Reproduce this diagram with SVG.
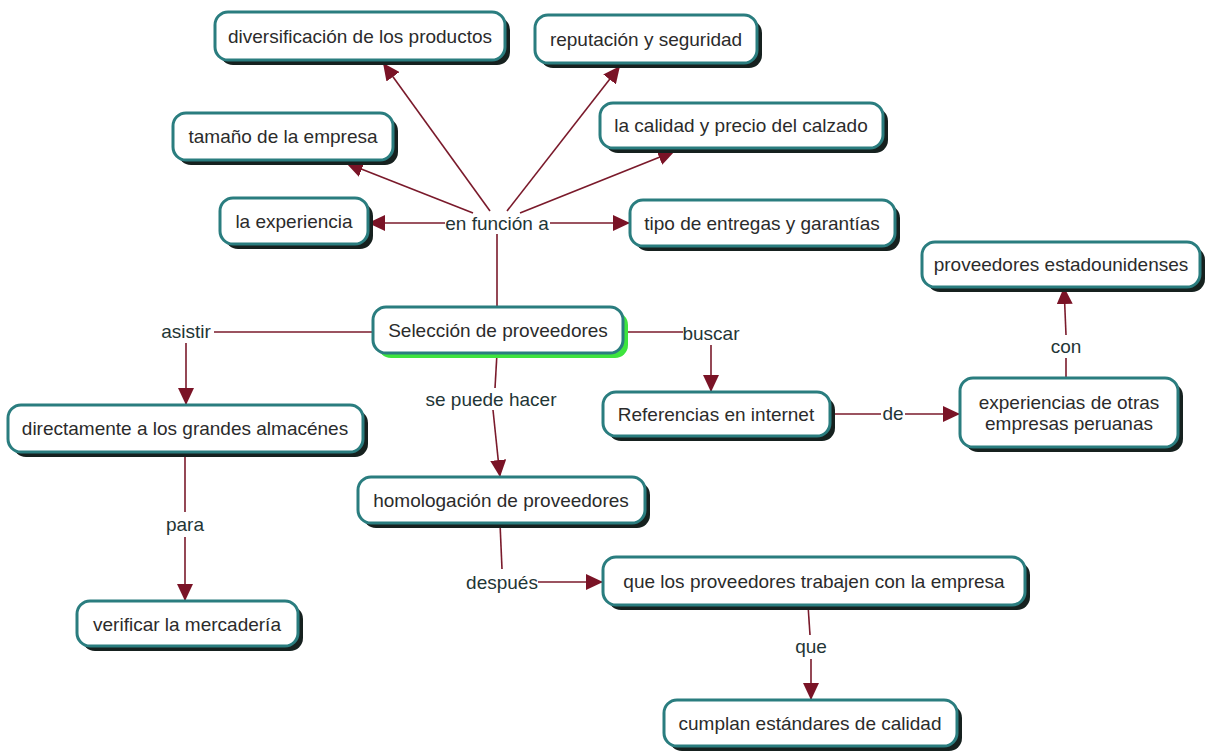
<svg xmlns="http://www.w3.org/2000/svg" width="1209" height="753" viewBox="0 0 1209 753">
  <defs>
    <style>
      .shadow { fill: #16211f; }
      .shadow-green { fill: #3ee43e; }
      .box { fill: #ffffff; stroke: #2a7d7f; stroke-width: 3; }
      .txt { font-family: "Liberation Sans", Arial, sans-serif; font-size: 19px; fill: #2b2b2b; text-anchor: middle; dominant-baseline: central; }
      .lbl { font-family: "Liberation Sans", Arial, sans-serif; font-size: 19px; fill: #1f3636; text-anchor: middle; dominant-baseline: central; }
      .link { fill: none; stroke: #7a1a2b; stroke-width: 1.6; }
      .arrow { fill: none; stroke: #7a1a2b; stroke-width: 1.6; marker-end: url(#head); }
    </style>
    <marker id="head" viewBox="0 0 17 16" refX="17" refY="8" markerWidth="17" markerHeight="16" markerUnits="userSpaceOnUse" orient="auto">
      <path d="M0,0 L17,8 L0,16 Z" fill="#7a1326"/>
    </marker>
  </defs>

  <rect x="0" y="0" width="1209" height="753" fill="#ffffff"/>

  <!-- connectors and their labels -->
  <g id="connectors">
    <!-- fan-out from "en función a" -->
    <path class="link" d="M497,307 L497,234"/>
    <path class="arrow" d="M445,223 L368,223"/>
    <path class="arrow" d="M550,223 L630,223"/>
    <path class="arrow" d="M473,213 L346,163"/>
    <path class="arrow" d="M490,211 L383,63"/>
    <path class="arrow" d="M507,211 L620,66"/>
    <path class="arrow" d="M520,213 L675,151"/>
    <text class="lbl" x="497" y="223">en función a</text>

    <!-- asistir -->
    <path class="link" d="M373,332 L214,332"/>
    <path class="arrow" d="M186,343 L186,405"/>
    <text class="lbl" x="186" y="331">asistir</text>

    <!-- buscar -->
    <path class="link" d="M623,332 L683,332"/>
    <path class="arrow" d="M711,345 L711,392"/>
    <text class="lbl" x="711" y="333">buscar</text>

    <!-- se puede hacer -->
    <path class="link" d="M497,353 L495,388"/>
    <path class="arrow" d="M493,410 L500,477"/>
    <text class="lbl" x="491" y="399">se puede hacer</text>

    <!-- de -->
    <path class="link" d="M830,414 L881,414"/>
    <path class="arrow" d="M905,414 L960,414"/>
    <text class="lbl" x="893" y="413">de</text>

    <!-- con -->
    <path class="link" d="M1066,378 L1066,358"/>
    <path class="arrow" d="M1066,335 L1064,287"/>
    <text class="lbl" x="1066" y="346">con</text>

    <!-- para -->
    <path class="link" d="M185,452 L185,512"/>
    <path class="arrow" d="M185,537 L185,601"/>
    <text class="lbl" x="185" y="524">para</text>

    <!-- después -->
    <path class="link" d="M500,523 L502,569"/>
    <path class="arrow" d="M538,582 L603,582"/>
    <text class="lbl" x="502" y="582">después</text>

    <!-- que -->
    <path class="link" d="M808,605 L810,635"/>
    <path class="arrow" d="M811,659 L811,700"/>
    <text class="lbl" x="811" y="646">que</text>
  </g>

  <!-- concept nodes -->
  <g id="n-diversificacion">
    <rect class="shadow" x="220" y="17" width="290" height="48" rx="13"/>
    <rect class="box" x="215" y="12" width="290" height="48" rx="13"/>
    <text class="txt" x="360" y="36">diversificación de los productos</text>
  </g>

  <g id="n-reputacion">
    <rect class="shadow" x="540" y="20" width="222" height="48" rx="13"/>
    <rect class="box" x="535" y="15" width="222" height="48" rx="13"/>
    <text class="txt" x="646" y="39">reputación y seguridad</text>
  </g>

  <g id="n-tamano">
    <rect class="shadow" x="178" y="118" width="220" height="47" rx="13"/>
    <rect class="box" x="173" y="113" width="220" height="47" rx="13"/>
    <text class="txt" x="283" y="136">tamaño de la empresa</text>
  </g>

  <g id="n-calidad">
    <rect class="shadow" x="605" y="108" width="283" height="45" rx="13"/>
    <rect class="box" x="600" y="103" width="283" height="45" rx="13"/>
    <text class="txt" x="741" y="125">la calidad y precio del calzado</text>
  </g>

  <g id="n-experiencia">
    <rect class="shadow" x="225" y="203" width="148" height="46" rx="13"/>
    <rect class="box" x="220" y="198" width="148" height="46" rx="13"/>
    <text class="txt" x="294" y="221">la experiencia</text>
  </g>

  <g id="n-tipo">
    <rect class="shadow" x="635" y="205" width="265" height="46" rx="13"/>
    <rect class="box" x="630" y="200" width="265" height="46" rx="13"/>
    <text class="txt" x="762" y="223">tipo de entregas y garantías</text>
  </g>

  <g id="n-estadounidenses">
    <rect class="shadow" x="927" y="247" width="278" height="45" rx="13"/>
    <rect class="box" x="922" y="242" width="278" height="45" rx="13"/>
    <text class="txt" x="1061" y="264">proveedores estadounidenses</text>
  </g>

  <g id="n-seleccion">
    <rect class="shadow-green" x="378" y="312" width="250" height="46" rx="13"/>
    <rect class="box" x="373" y="307" width="250" height="46" rx="13"/>
    <text class="txt" x="498" y="330">Selección de proveedores</text>
  </g>

  <g id="n-directamente">
    <rect class="shadow" x="13" y="410" width="355" height="47" rx="13"/>
    <rect class="box" x="8" y="405" width="355" height="47" rx="13"/>
    <text class="txt" x="185" y="428">directamente a los grandes almacénes</text>
  </g>

  <g id="n-referencias">
    <rect class="shadow" x="608" y="397" width="227" height="44" rx="13"/>
    <rect class="box" x="603" y="392" width="227" height="44" rx="13"/>
    <text class="txt" x="716" y="414">Referencias en internet</text>
  </g>

  <g id="n-experiencias">
    <rect class="shadow" x="965" y="383" width="218" height="69" rx="13"/>
    <rect class="box" x="960" y="378" width="218" height="69" rx="13"/>
    <text class="txt" x="1069" y="402">experiencias de otras</text>
    <text class="txt" x="1069" y="423">empresas peruanas</text>
  </g>

  <g id="n-homologacion">
    <rect class="shadow" x="363" y="482" width="287" height="46" rx="13"/>
    <rect class="box" x="358" y="477" width="287" height="46" rx="13"/>
    <text class="txt" x="501" y="500">homologación de proveedores</text>
  </g>

  <g id="n-verificar">
    <rect class="shadow" x="82" y="606" width="221" height="45" rx="13"/>
    <rect class="box" x="77" y="601" width="221" height="45" rx="13"/>
    <text class="txt" x="187" y="624">verificar la mercadería</text>
  </g>

  <g id="n-trabajen">
    <rect class="shadow" x="608" y="562" width="422" height="48" rx="13"/>
    <rect class="box" x="603" y="557" width="422" height="48" rx="13"/>
    <text class="txt" x="814" y="581">que los proveedores trabajen con la empresa</text>
  </g>

  <g id="n-cumplan">
    <rect class="shadow" x="669" y="705" width="293" height="46" rx="13"/>
    <rect class="box" x="664" y="700" width="293" height="46" rx="13"/>
    <text class="txt" x="810" y="723">cumplan estándares de calidad</text>
  </g>
</svg>
